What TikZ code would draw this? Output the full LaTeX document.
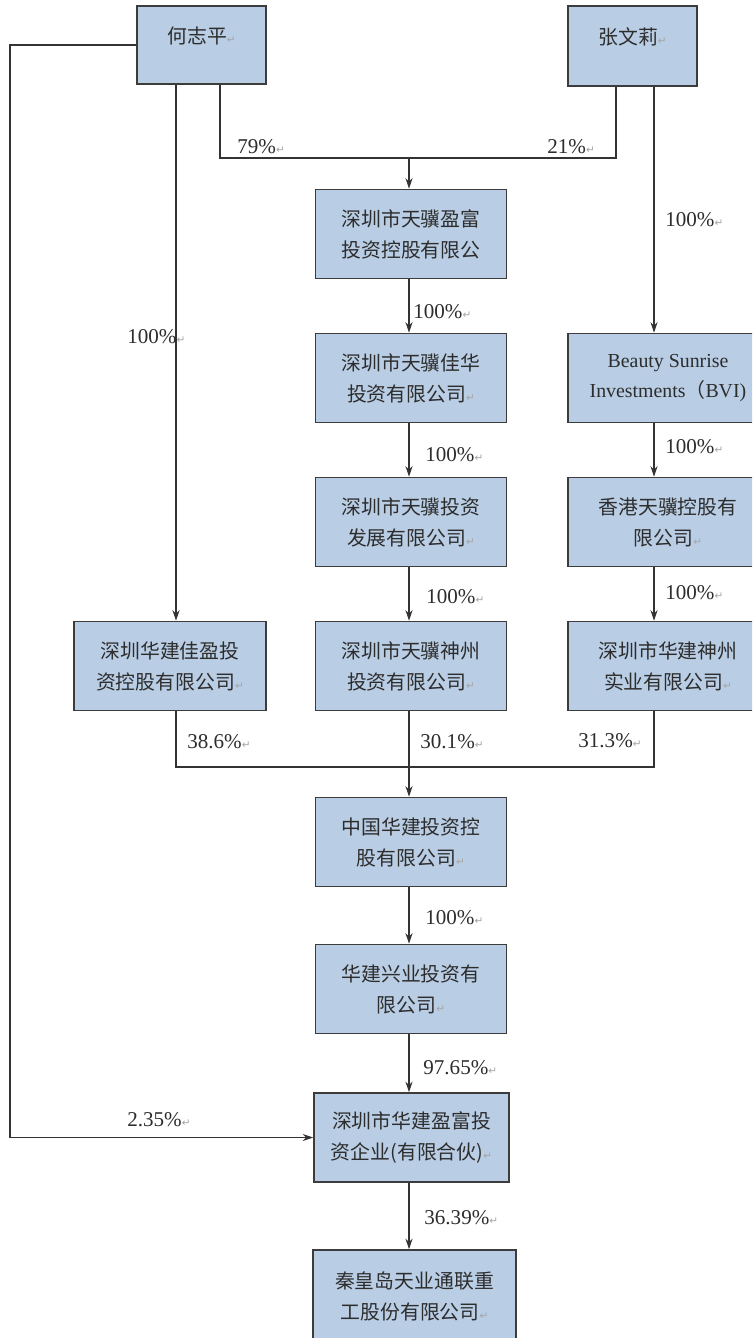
\documentclass[tikz,border=0pt]{standalone}
\usepackage{fontspec}
\setmainfont{Liberation Serif}
\newfontfamily\cjk{Noto Sans CJK SC}
\newfontfamily\dejavu{DejaVu Sans}
\usetikzlibrary{arrows.meta}
\definecolor{boxblue}{RGB}{185,205,228}
\definecolor{boxline}{RGB}{60,60,60}
\definecolor{inkgrey}{RGB}{45,45,45}
\newcommand{\retmark}{{\dejavu\fontsize{6}{6}\selectfont\color{gray!70}↵}}

\begin{document}
\begin{tikzpicture}[x=0.02cm,y=-0.02cm,
		company/.style={draw=boxline,fill=boxblue,line width=0.9pt,align=center,inner sep=0pt,
			minimum width=3.82cm,minimum height=1.78cm,text=inkgrey,font=\cjk\fontsize{11.3}{17.6}\selectfont},
		share/.style={anchor=west,inner sep=0pt,text=inkgrey,font=\fontsize{12}{12}\selectfont},
		link/.style={draw=black!80,line width=0.6pt},
		>={Stealth[length=6pt,width=4pt]}]
		\clip (0,0) rectangle (752,1338);
		\fill[white] (0,0) rectangle (752,1338);
		\node[company,minimum width=2.58cm,minimum height=1.56cm] (hzp) at (201.5,45) {\raisebox{1pt}[0pt][0pt]{何志平\retmark}};
		\node[company,minimum width=2.58cm,minimum height=1.6cm] (zwl) at (632.5,46) {\raisebox{1pt}[0pt][0pt]{张文莉\retmark}};
		\node[company] (yf) at (411,234) {深圳市天骥盈富\\投资控股有限公};
		\node[company] (jh) at (411,378) {深圳市天骥佳华\\投资有限公司\retmark};
		\node[company] (fz) at (411,522) {深圳市天骥投资\\发展有限公司\retmark};
		\node[company] (sz) at (411,666) {深圳市天骥神州\\投资有限公司\retmark};
		\node[company,minimum width=3.84cm] (jy) at (170,666) {深圳华建佳盈投\\资控股有限公司\retmark};
		\node[company,minimum width=4cm] (bvi) at (668,378) {\rmfamily Beauty Sunrise\\\rmfamily Investments{\cjk（}BVI)};
		\node[company,minimum width=4cm] (hk) at (668,522) {香港天骥控股有\\限公司\retmark};
		\node[company,minimum width=4cm] (hs) at (668,666) {深圳市华建神州\\实业有限公司\retmark};
		\node[company] (zg) at (411,842) {中国华建投资控\\股有限公司\retmark};
		\node[company] (xy) at (411,989) {华建兴业投资有\\限公司\retmark};
		\node[company,minimum width=3.9cm] (yfqy) at (411.5,1137.5) {深圳市华建盈富投\\资企业(有限合伙)\retmark};
		\node[company,minimum width=4.06cm,minimum height=1.84cm] (qhd) at (414.5,1296) {秦皇岛天业通联重\\工股份有限公司\retmark};
		\coordinate (c79) at (220,0);
		\coordinate (c21) at (616,0);
		\coordinate (colL) at (176,0);
		\coordinate (colM) at (409,0);
		\coordinate (colR) at (654,0);
		\coordinate (farL) at (10,0);
		\coordinate (topjoin) at (409,158);
		\coordinate (botjoin) at (409,767);
		\draw[link] (hzp.south -| c79) -- (c79 |- topjoin) -- (c21 |- topjoin) -- (zwl.south -| c21);
		\draw[link,->] (topjoin) -- (yf.north -| colM);
		\draw[link,->] (yf.south -| colM) -- (jh.north -| colM);
		\draw[link,->] (jh.south -| colM) -- (fz.north -| colM);
		\draw[link,->] (fz.south -| colM) -- (sz.north -| colM);
		\draw[link,->] (hzp.south -| colL) -- (jy.north -| colL);
		\draw[link,->] (zwl.south -| colR) -- (bvi.north -| colR);
		\draw[link,->] (bvi.south -| colR) -- (hk.north -| colR);
		\draw[link,->] (hk.south -| colR) -- (hs.north -| colR);
		\draw[link] (jy.south -| colL) -- (colL |- botjoin) -- (colR |- botjoin) -- (hs.south -| colR);
		\draw[link,->] (sz.south -| colM) -- (zg.north -| colM);
		\draw[link,->] (zg.south -| colM) -- (xy.north -| colM);
		\draw[link,->] (xy.south -| colM) -- (yfqy.north -| colM);
		\draw[link,->] (yfqy.south -| colM) -- (qhd.north -| colM);
		\draw[link,->] (hzp.west) -- (farL |- hzp.west) -- (farL |- yfqy.west) -- (yfqy.west);
		\node[share] (p79) at (237,147) {79\%\retmark};
		\node[share] (p21) at (547,147) {21\%\retmark};
		\node[share] (p100a) at (665,220) {100\%\retmark};
		\node[share] (p100b) at (127,337) {100\%\retmark};
		\node[share] (p100c) at (413,312) {100\%\retmark};
		\node[share] (p100d) at (425,455) {100\%\retmark};
		\node[share] (p100e) at (665,447) {100\%\retmark};
		\node[share] (p100f) at (426,597) {100\%\retmark};
		\node[share] (p100g) at (665,593) {100\%\retmark};
		\node[share] (p386) at (187,742) {38.6\%\retmark};
		\node[share] (p301) at (420,742) {30.1\%\retmark};
		\node[share] (p313) at (578,741) {31.3\%\retmark};
		\node[share] (p100h) at (425,918) {100\%\retmark};
		\node[share] (p9765) at (423,1068) {97.65\%\retmark};
		\node[share] (p235) at (127,1120) {2.35\%\retmark};
		\node[share] (p3639) at (424,1218) {36.39\%\retmark};
		\end{tikzpicture}
\end{document}
